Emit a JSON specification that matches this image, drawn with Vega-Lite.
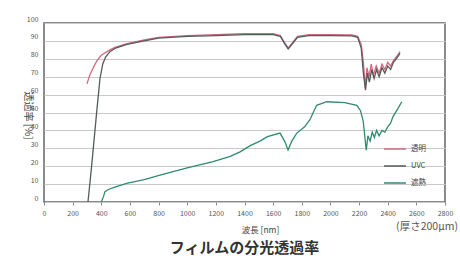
{
  "$schema": "https://vega.github.io/schema/vega-lite/v6.json",
  "width": 401,
  "height": 179,
  "autosize": {"type": "none"},
  "padding": {"left": 44, "top": 23, "right": 15, "bottom": 59},
  "background": "white",
  "config": {
    "font": "Noto Sans CJK JP",
    "view": {"stroke": "#666666", "strokeWidth": 1.5},
    "legend": {"labelFont": "Noto Sans CJK JP"}
  },
  "title": {
    "text": "フィルムの分光透過率",
    "orient": "bottom",
    "anchor": "middle",
    "fontSize": 15,
    "fontWeight": "bold",
    "color": "#333333",
    "offset": 7,
    "font": "Noto Sans CJK JP"
  },
  "datasets": {
    "spectra": [
      {"film": "透明", "wavelength": 300, "transmittance": 66},
      {"film": "透明", "wavelength": 320, "transmittance": 71},
      {"film": "透明", "wavelength": 350, "transmittance": 76},
      {"film": "透明", "wavelength": 370, "transmittance": 79},
      {"film": "透明", "wavelength": 400, "transmittance": 82},
      {"film": "透明", "wavelength": 460, "transmittance": 85},
      {"film": "透明", "wavelength": 500, "transmittance": 86.5},
      {"film": "透明", "wavelength": 580, "transmittance": 88.5},
      {"film": "透明", "wavelength": 700, "transmittance": 90.5},
      {"film": "透明", "wavelength": 800, "transmittance": 92},
      {"film": "透明", "wavelength": 1000, "transmittance": 93},
      {"film": "透明", "wavelength": 1200, "transmittance": 93.5},
      {"film": "透明", "wavelength": 1400, "transmittance": 94},
      {"film": "透明", "wavelength": 1600, "transmittance": 94},
      {"film": "透明", "wavelength": 1650, "transmittance": 93},
      {"film": "透明", "wavelength": 1680, "transmittance": 89},
      {"film": "透明", "wavelength": 1705, "transmittance": 86},
      {"film": "透明", "wavelength": 1730, "transmittance": 88.5},
      {"film": "透明", "wavelength": 1770, "transmittance": 92.5},
      {"film": "透明", "wavelength": 1850, "transmittance": 93.5},
      {"film": "透明", "wavelength": 2000, "transmittance": 93.5},
      {"film": "透明", "wavelength": 2150, "transmittance": 93.3},
      {"film": "透明", "wavelength": 2190, "transmittance": 92.5},
      {"film": "透明", "wavelength": 2215, "transmittance": 88},
      {"film": "透明", "wavelength": 2230, "transmittance": 78},
      {"film": "透明", "wavelength": 2243, "transmittance": 64},
      {"film": "透明", "wavelength": 2255, "transmittance": 75},
      {"film": "透明", "wavelength": 2270, "transmittance": 70},
      {"film": "透明", "wavelength": 2285, "transmittance": 77},
      {"film": "透明", "wavelength": 2300, "transmittance": 71},
      {"film": "透明", "wavelength": 2320, "transmittance": 76},
      {"film": "透明", "wavelength": 2340, "transmittance": 72},
      {"film": "透明", "wavelength": 2360, "transmittance": 77},
      {"film": "透明", "wavelength": 2380, "transmittance": 74},
      {"film": "透明", "wavelength": 2400, "transmittance": 78},
      {"film": "透明", "wavelength": 2420, "transmittance": 76},
      {"film": "透明", "wavelength": 2440, "transmittance": 79},
      {"film": "透明", "wavelength": 2460, "transmittance": 81},
      {"film": "透明", "wavelength": 2486, "transmittance": 84},
      {"film": "UVC", "wavelength": 307, "transmittance": 0},
      {"film": "UVC", "wavelength": 330, "transmittance": 18},
      {"film": "UVC", "wavelength": 350, "transmittance": 35},
      {"film": "UVC", "wavelength": 370, "transmittance": 52},
      {"film": "UVC", "wavelength": 391, "transmittance": 69},
      {"film": "UVC", "wavelength": 410, "transmittance": 77},
      {"film": "UVC", "wavelength": 430, "transmittance": 81},
      {"film": "UVC", "wavelength": 460, "transmittance": 84},
      {"film": "UVC", "wavelength": 500, "transmittance": 86},
      {"film": "UVC", "wavelength": 580, "transmittance": 88},
      {"film": "UVC", "wavelength": 700, "transmittance": 90},
      {"film": "UVC", "wavelength": 800, "transmittance": 91.5},
      {"film": "UVC", "wavelength": 1000, "transmittance": 92.5},
      {"film": "UVC", "wavelength": 1200, "transmittance": 93},
      {"film": "UVC", "wavelength": 1400, "transmittance": 93.5},
      {"film": "UVC", "wavelength": 1600, "transmittance": 93.5},
      {"film": "UVC", "wavelength": 1650, "transmittance": 92.5},
      {"film": "UVC", "wavelength": 1680, "transmittance": 88.5},
      {"film": "UVC", "wavelength": 1705, "transmittance": 85.5},
      {"film": "UVC", "wavelength": 1730, "transmittance": 88},
      {"film": "UVC", "wavelength": 1770, "transmittance": 92},
      {"film": "UVC", "wavelength": 1850, "transmittance": 93},
      {"film": "UVC", "wavelength": 2000, "transmittance": 93},
      {"film": "UVC", "wavelength": 2150, "transmittance": 92.8},
      {"film": "UVC", "wavelength": 2190, "transmittance": 92},
      {"film": "UVC", "wavelength": 2215, "transmittance": 86},
      {"film": "UVC", "wavelength": 2230, "transmittance": 72},
      {"film": "UVC", "wavelength": 2245, "transmittance": 62.5},
      {"film": "UVC", "wavelength": 2258, "transmittance": 72},
      {"film": "UVC", "wavelength": 2272, "transmittance": 67},
      {"film": "UVC", "wavelength": 2288, "transmittance": 74},
      {"film": "UVC", "wavelength": 2305, "transmittance": 69},
      {"film": "UVC", "wavelength": 2322, "transmittance": 74},
      {"film": "UVC", "wavelength": 2340, "transmittance": 70},
      {"film": "UVC", "wavelength": 2360, "transmittance": 75},
      {"film": "UVC", "wavelength": 2380, "transmittance": 72},
      {"film": "UVC", "wavelength": 2400, "transmittance": 76},
      {"film": "UVC", "wavelength": 2420, "transmittance": 74},
      {"film": "UVC", "wavelength": 2440, "transmittance": 78},
      {"film": "UVC", "wavelength": 2460, "transmittance": 80},
      {"film": "UVC", "wavelength": 2486, "transmittance": 83},
      {"film": "遮熱", "wavelength": 400, "transmittance": 0},
      {"film": "遮熱", "wavelength": 415, "transmittance": 3},
      {"film": "遮熱", "wavelength": 426, "transmittance": 5.8},
      {"film": "遮熱", "wavelength": 450, "transmittance": 7},
      {"film": "遮熱", "wavelength": 500, "transmittance": 8.5},
      {"film": "遮熱", "wavelength": 577, "transmittance": 10.4},
      {"film": "遮熱", "wavelength": 700, "transmittance": 12.5},
      {"film": "遮熱", "wavelength": 810, "transmittance": 15},
      {"film": "遮熱", "wavelength": 1000, "transmittance": 19},
      {"film": "遮熱", "wavelength": 1181, "transmittance": 22.5},
      {"film": "遮熱", "wavelength": 1300, "transmittance": 25.5},
      {"film": "遮熱", "wavelength": 1369, "transmittance": 28},
      {"film": "遮熱", "wavelength": 1440, "transmittance": 31.5},
      {"film": "遮熱", "wavelength": 1508, "transmittance": 34},
      {"film": "遮熱", "wavelength": 1560, "transmittance": 36.5},
      {"film": "遮熱", "wavelength": 1648, "transmittance": 38.5},
      {"film": "遮熱", "wavelength": 1680, "transmittance": 34},
      {"film": "遮熱", "wavelength": 1704, "transmittance": 29},
      {"film": "遮熱", "wavelength": 1730, "transmittance": 34},
      {"film": "遮熱", "wavelength": 1765, "transmittance": 38.5},
      {"film": "遮熱", "wavelength": 1820, "transmittance": 42},
      {"film": "遮熱", "wavelength": 1857, "transmittance": 46},
      {"film": "遮熱", "wavelength": 1880, "transmittance": 50},
      {"film": "遮熱", "wavelength": 1904, "transmittance": 54},
      {"film": "遮熱", "wavelength": 1974, "transmittance": 56},
      {"film": "遮熱", "wavelength": 2100, "transmittance": 55.5},
      {"film": "遮熱", "wavelength": 2184, "transmittance": 54},
      {"film": "遮熱", "wavelength": 2210, "transmittance": 51},
      {"film": "遮熱", "wavelength": 2229, "transmittance": 45},
      {"film": "遮熱", "wavelength": 2250, "transmittance": 29},
      {"film": "遮熱", "wavelength": 2262, "transmittance": 37},
      {"film": "遮熱", "wavelength": 2277, "transmittance": 34},
      {"film": "遮熱", "wavelength": 2292, "transmittance": 39},
      {"film": "遮熱", "wavelength": 2307, "transmittance": 36},
      {"film": "遮熱", "wavelength": 2322, "transmittance": 40},
      {"film": "遮熱", "wavelength": 2340, "transmittance": 37},
      {"film": "遮熱", "wavelength": 2360, "transmittance": 40},
      {"film": "遮熱", "wavelength": 2380, "transmittance": 39},
      {"film": "遮熱", "wavelength": 2400, "transmittance": 42},
      {"film": "遮熱", "wavelength": 2420, "transmittance": 44},
      {"film": "遮熱", "wavelength": 2437, "transmittance": 47.7},
      {"film": "遮熱", "wavelength": 2470, "transmittance": 52},
      {"film": "遮熱", "wavelength": 2498, "transmittance": 56}
    ],
    "note": [
      {"note": "(厚さ200μm)", "wavelength": 2800, "transmittance": 0}
    ]
  },
  "encoding": {
    "x": {
      "field": "wavelength",
      "type": "quantitative",
      "scale": {"domain": [0, 2800], "nice": false},
      "axis": {
        "title": "波長 [nm]",
        "titleFontSize": 8.5,
        "titleFontWeight": "normal",
        "titleColor": "#444444",
        "titlePadding": 9,
        "titleX": 216,
        "values": [0, 200, 400, 600, 800, 1000, 1200, 1400, 1600, 1800, 2000, 2200, 2400, 2600, 2800],
        "format": "d",
        "labelFontSize": 7,
        "labelColor": "#555555",
        "labelPadding": 4,
        "labelFlush": false,
        "labelOverlap": false,
        "grid": false,
        "domain": false,
        "ticks": true,
        "tickSize": 3,
        "tickColor": "#888888"
      }
    },
    "y": {
      "field": "transmittance",
      "type": "quantitative",
      "scale": {"domain": [0, 100], "nice": false},
      "axis": {
        "title": "透過率 [%]",
        "titleAngle": 90,
        "titleFontSize": 10,
        "titleFontWeight": "normal",
        "titleColor": "#444444",
        "titlePadding": 4,
        "titleY": 92,
        "values": [0, 10, 20, 30, 40, 50, 60, 70, 80, 90, 100],
        "labelFontSize": 7,
        "labelColor": "#555555",
        "labelPadding": 6,
        "labelOffset": -4,
        "labelFlush": false,
        "grid": true,
        "gridColor": "#c8c8c8",
        "gridWidth": 1.2,
        "domain": false,
        "ticks": false
      }
    }
  },
  "layer": [
    {
      "data": {"name": "spectra"},
      "mark": {"type": "line", "strokeWidth": 1.3},
      "encoding": {
        "color": {
          "field": "film",
          "type": "nominal",
          "scale": {"domain": ["透明", "UVC", "遮熱"], "range": ["#cf6a80", "#555a5a", "#2f8a6e"]},
          "legend": {
            "title": null,
            "orient": "none",
            "legendX": 339,
            "legendY": 114,
            "symbolType": "stroke",
            "symbolSize": 480,
            "symbolStrokeWidth": 1.5,
            "labelFontSize": 7.5,
            "labelColor": "#444444",
            "rowPadding": 1,
            "labelOffset": 4
          }
        }
      }
    },
    {
      "data": {"name": "note"},
      "mark": {"type": "text", "align": "right", "baseline": "middle", "dx": 13, "dy": 25, "fontSize": 10.5, "color": "#555555"},
      "encoding": {"text": {"field": "note"}}
    }
  ]
}
